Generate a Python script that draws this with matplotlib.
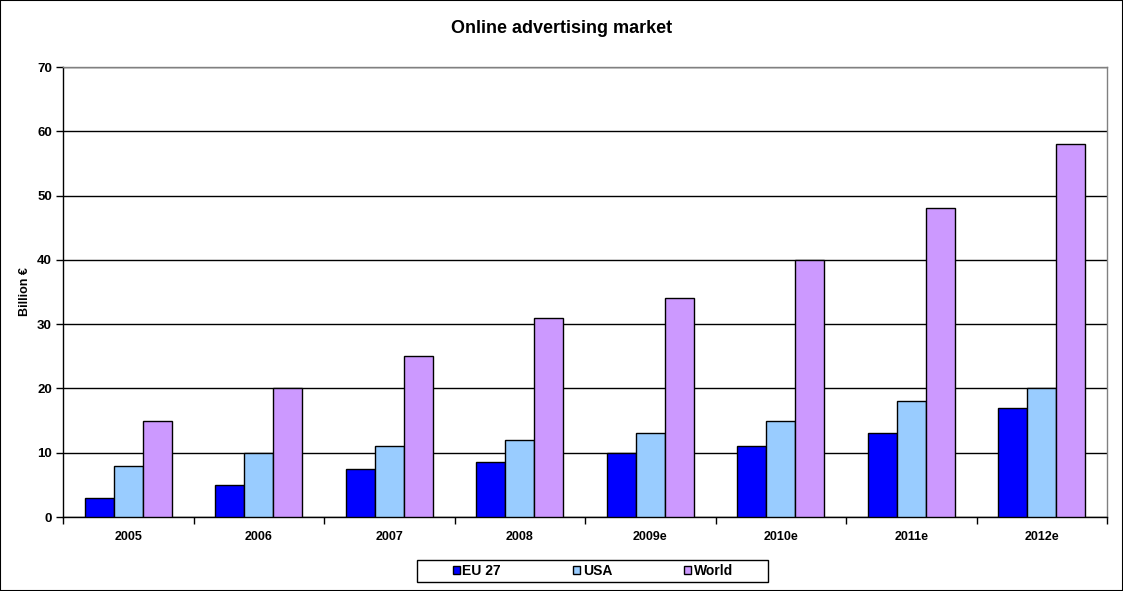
import matplotlib
matplotlib.use("Agg")
import matplotlib.pyplot as plt
import numpy as np
from matplotlib.ticker import FixedLocator
from matplotlib.patches import Rectangle

plt.rcParams['font.family'] = ['Liberation Sans', 'DejaVu Sans']

categories = ["2005", "2006", "2007", "2008", "2009e", "2010e", "2011e", "2012e"]
eu27 = [3, 5, 7.5, 8.5, 10, 11, 13, 17]
usa = [8, 10, 11, 12, 13, 15, 18, 20]
world = [15, 20, 25, 31, 34, 40, 48, 58]
series_names = ["EU 27", "USA", "World"]
colors = ["#0000FF", "#99CCFF", "#CC99FF"]

fig = plt.figure(figsize=(11.23, 5.91), dpi=100)
ax = fig.add_axes([63/1123, 74/591, 1044/1123, 450/591])

x = np.arange(len(categories))
w = 0.222
for i, (vals, name, c) in enumerate(zip([eu27, usa, world], series_names, colors)):
    ax.bar(x + (i - 1) * w, vals, width=w, color=c, edgecolor="black", linewidth=1.0,
           label=name, zorder=3)

ax.set_xlim(-0.5, len(categories) - 0.5)
ax.set_ylim(0, 70)
ax.set_yticks(np.arange(0, 71, 10))
ax.yaxis.grid(True, color="black", linewidth=1.0, zorder=0)
ax.set_axisbelow(True)

ax.set_xticks(x)
ax.set_xticklabels(categories, fontsize=9, fontweight="bold")
ax.xaxis.set_minor_locator(FixedLocator(np.arange(-0.5, len(categories), 1.0)))
ax.tick_params(axis="x", which="major", length=0, pad=10)
ax.tick_params(axis="x", which="minor", length=5, width=1, direction="out", color="black")
ax.tick_params(axis="y", which="major", length=5, width=1, direction="out", labelsize=9.5, pad=3)
for lab in ax.get_yticklabels():
    lab.set_fontweight("bold")

ax.spines["left"].set_color("black")
ax.spines["bottom"].set_color("black")
ax.spines["top"].set_color("#808080")
ax.spines["right"].set_color("#808080")
for s in ax.spines.values():
    s.set_linewidth(1.0)

ax.set_ylabel("Billion €", fontsize=9, fontweight="bold", labelpad=4)

fig.suptitle("Online advertising market", fontsize=13, fontweight="bold", y=1 - 20/591, va="top")

leg = fig.legend(loc="center", bbox_to_anchor=(593/1123, 1 - 571/591), ncol=3,
                 prop={"weight": "bold", "size": 10}, frameon=False,
                 handlelength=0.5, handleheight=0.5, handletextpad=0.2, columnspacing=5.2,
                 borderpad=0.0)
for h in leg.legend_handles:
    h.set_linewidth(1.0)

fig.patches.append(Rectangle((417/1123, 1 - 582/591), 351/1123, 22/591, transform=fig.transFigure,
                             fill=False, edgecolor="black", linewidth=1.0))
fig.patches.append(Rectangle((0, 0), 1, 1, transform=fig.transFigure, fill=False,
                             edgecolor="black", linewidth=1.5))

fig.savefig("out.png", dpi=100)
